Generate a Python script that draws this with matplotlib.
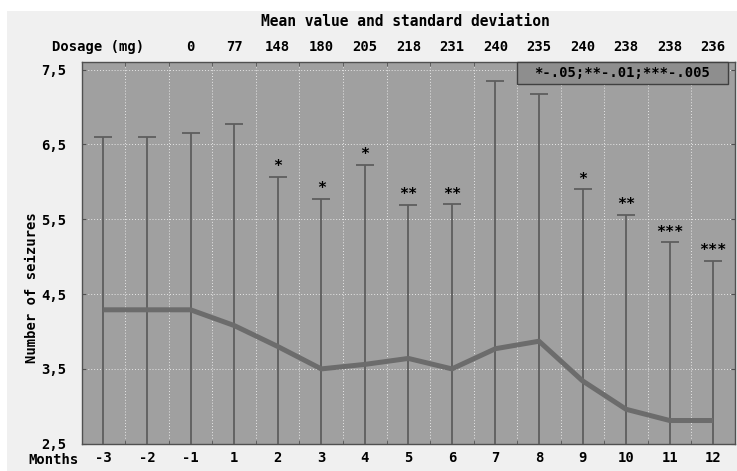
import numpy as np
import matplotlib
matplotlib.use("Agg")
import matplotlib.pyplot as plt
from matplotlib.patches import Rectangle
from matplotlib.ticker import FixedLocator

# ── data ──────────────────────────────────────────────────────────────────────
months = ["-3", "-2", "-1", "1", "2", "3", "4", "5", "6", "7", "8", "9", "10", "11", "12"]
dosage = ["", "", "0", "77", "148", "180", "205", "218", "231", "240", "235",
          "240", "238", "238", "236"]
mean_seizures = [4.29, 4.29, 4.29, 4.08, 3.80, 3.50, 3.56, 3.64, 3.50, 3.77,
                 3.87, 3.34, 2.96, 2.81, 2.81]
sd_seizures = [2.31, 2.31, 2.37, 2.69, 2.27, 2.27, 2.67, 2.05, 2.20, 3.58,
               3.31, 2.56, 2.60, 2.38, 2.13]
signif = ["", "", "", "", "*", "*", "*", "**", "**", "", "", "*", "**", "***", "***"]
y_ticks = [2.5, 3.5, 4.5, 5.5, 6.5, 7.5]

# ── style ─────────────────────────────────────────────────────────────────────
FONT = "DejaVu Sans Mono"
PANEL_BG = "#f0f0f0"
PLOT_BG = "#a0a0a0"
BAR_COLOR = "#5e5e5e"
LINE_COLOR = "#6c6c6c"
EDGE_COLOR = "#505050"

plt.rcParams["font.family"] = FONT
plt.rcParams["font.weight"] = "bold"

W, H = 737, 471
fig = plt.figure(figsize=(W / 100, H / 100), dpi=100, facecolor="white")
fig.patches.append(Rectangle((7 / W, 0), 1, (H - 11) / H,
                             transform=fig.transFigure, facecolor=PANEL_BG,
                             edgecolor="none", zorder=-10))

ax = fig.add_axes([81.7 / W, (H - 443.7) / H, (735 - 81.7) / W, (443.7 - 62.3) / H])
ax.set_facecolor(PLOT_BG)

x = np.arange(len(months))

ax.errorbar(x, mean_seizures, yerr=sd_seizures, fmt="none", ecolor=BAR_COLOR,
            elinewidth=1.3, capsize=6.2, capthick=1.3, zorder=3)
ax.plot(x, mean_seizures, color=LINE_COLOR, linewidth=3.6, zorder=4,
        solid_capstyle="butt")

for xi, m, s, lab in zip(x, mean_seizures, sd_seizures, signif):
    if lab:
        ax.annotate(lab, (xi, m + s), xytext=(0, 2), textcoords="offset points",
                    ha="center", va="bottom", fontsize=11, fontweight="bold",
                    color="black", zorder=5)

ax.set_xlim(-0.5, len(months) - 0.5)
ax.set_ylim(2.5, 7.5 + 7.4 / 75)

# ticks and grid
ax.set_xticks(x)
ax.set_xticklabels(months, fontsize=10, fontweight="bold")
ax.xaxis.set_minor_locator(FixedLocator(x[:-1] + 0.5))
ax.tick_params(axis="x", which="major", length=0, pad=5)
ax.tick_params(axis="x", which="minor", direction="in", length=3,
               top=True, bottom=True, color=EDGE_COLOR)
ax.set_yticks(y_ticks)
ax.set_yticklabels([f"{v:.1f}".replace(".", ",") for v in y_ticks],
                   fontsize=10, fontweight="bold")
ax.tick_params(axis="y", direction="in", length=3, left=True, right=True,
               pad=11, color=EDGE_COLOR)
ax.grid(which="minor", axis="x", color="#e8e8e8", linestyle=(0, (1, 2)),
        linewidth=0.7, zorder=1)
ax.grid(which="major", axis="y", color="#e8e8e8", linestyle=(0, (1, 2)),
        linewidth=0.7, zorder=1)
ax.set_axisbelow(True)
for sp in ax.spines.values():
    sp.set_color(EDGE_COLOR)
    sp.set_linewidth(1.0)

# top dosage row
tr = ax.get_xaxis_transform()
dose_y = 1 + 15.5 / (443.7 - 62.3)
for xi, d in zip(x, dosage):
    if d:
        ax.text(xi, dose_y, d, transform=tr, ha="center", va="center",
                fontsize=10, fontweight="bold")

fig.text(52 / W, 1 - 47 / H, "Dosage (mg)", ha="left", va="center",
         fontsize=10, fontweight="bold")
fig.text(28 / W, 1 - 460 / H, "Months", ha="left", va="center",
         fontsize=10, fontweight="bold")
fig.text(405 / W, 1 - 22 / H, "Mean value and standard deviation",
         ha="center", va="center", fontsize=10.5, fontweight="bold")
fig.text(32 / W, 1 - 288 / H, "Number of seizures", rotation=90,
         ha="center", va="center", fontsize=10, fontweight="bold")

# significance key
bx0, bx1 = (517 - 81.7) / 653.3, (728 - 81.7) / 653.3
by0 = (443.7 - 84) / 381.4
ax.add_patch(Rectangle((bx0, by0), bx1 - bx0, 1 - by0, transform=ax.transAxes,
                       facecolor="#8e8e8e", edgecolor="#404040",
                       linewidth=1.0, zorder=6, clip_on=False))
ax.text((bx0 + bx1) / 2, (by0 + 1) / 2, "*-.05;**-.01;***-.005",
        transform=ax.transAxes, ha="center", va="center", fontsize=10,
        fontweight="bold", zorder=7)

fig.savefig("out.png", dpi=100, facecolor="white")
